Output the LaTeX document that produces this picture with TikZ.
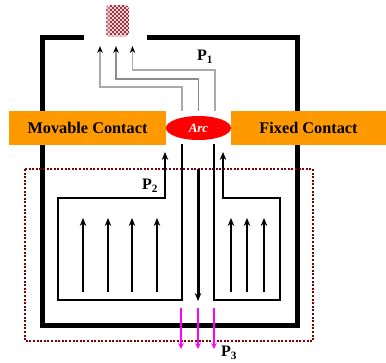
\documentclass[tikz,border=0pt]{standalone}
\usepackage{fontspec}
\setmainfont{Liberation Serif}
\usetikzlibrary{arrows.meta,shapes.geometric}
\definecolor{orangebox}{RGB}{255,153,0}
\definecolor{dotred}{RGB}{128,0,0}
\definecolor{smokered}{RGB}{165,50,65}
\definecolor{grayline}{RGB}{170,170,170}
\definecolor{midgray}{RGB}{140,140,140}
\definecolor{pureviolet}{RGB}{255,0,255}
\tikzset{
  wall/.style={line width=5pt,line cap=butt,line join=miter},
  contact/.style={fill=orangebox,draw=none,inner sep=0pt,minimum height=34pt,font=\bfseries\fontsize{16.3}{18}\selectfont},
  flowline/.style={line width=2pt,line join=miter},
  tip/.style={-{Stealth[length=8pt,width=6.5pt]}},
  uparrow/.style={line width=2pt,-{Stealth[length=8pt,width=6.5pt]}},
  hotpath/.style={line width=1.4pt,draw=grayline,-{Stealth[length=7pt,width=5.5pt,color=black]}},
  magarrow/.style={line width=2pt,draw=pureviolet,-{Stealth[length=6pt,width=5.5pt,color=pureviolet]}},
  plabel/.style={inner sep=0pt,font=\bfseries\fontsize{16}{18}\selectfont},
}
\begin{document}
\begin{tikzpicture}[x=1pt,y=-1pt]
\useasboundingbox (0,0) rectangle (386,362);
% walls
\coordinate (wlend) at (84,37);
\coordinate (wltop) at (42,37);
\coordinate (wlbot) at (42,325);
\coordinate (wrbot) at (297,325);
\coordinate (wrtop) at (297,37);
\coordinate (wrend) at (147,37);
\draw[wall] (wlend) -- (wltop) -- (wlbot) -- (wrbot) -- (wrtop) -- (wrend);
% dotted boundary
\draw[dotred,line width=2pt,dash pattern=on 2pt off 1.6pt] (25,169) rectangle (313,341);
% smoke
\begin{scope}
\clip[rounded corners=4pt] (105.5,5) rectangle (129,37);
\foreach \i in {0,...,12}{
  \foreach \j in {0,...,16}{
    \pgfmathtruncatemacro{\checker}{mod(\i+\j,2)}
    \pgfmathtruncatemacro{\tint}{\j>14 ? 35 : (\i<2 ? 70 : 100)}
    \ifnum\checker=0
      \fill[smokered!\tint] ({105.5+\i*2},{5+\j*2}) rectangle +(2,2);
    \else
      \fill[smokered!22] ({105.5+\i*2},{5+\j*2}) rectangle +(2,2);
    \fi
  }
}
\end{scope}
% gray paths
\coordinate (g1s) at (182,111);\coordinate (g1a) at (182,87);\coordinate (g1b) at (100,87);\coordinate (g1e) at (100,46);
\coordinate (g2s) at (198.5,111);\coordinate (g2a) at (198.5,79);\coordinate (g2b) at (116,79);\coordinate (g2e) at (116,46);
\coordinate (g3s) at (215,111);\coordinate (g3a) at (215,70);\coordinate (g3b) at (132.5,70);\coordinate (g3e) at (132.5,46);
\draw[hotpath] (g1s) -- (g1a) -- (g1b) -- (g1e);
\draw[hotpath,draw=midgray] (g2s) -- (g2a) -- (g2b) -- (g2e);
\draw[hotpath] (g3s) -- (g3a) -- (g3b) -- (g3e);
% contacts
\node (mov) [contact,minimum width=157pt] at (87.5,128) {Movable Contact};
\node (fix) [contact,minimum width=155pt] at (308.5,128) {Fixed Contact};
\node (arc) [ellipse,fill=red,draw=none,minimum width=65pt,minimum height=24pt,inner sep=0pt,text=white,font=\bfseries\itshape\fontsize{13}{15}\selectfont] at (198.5,128) {Arc};
% inner left channel
\coordinate (la) at (182,144);\coordinate (lb) at (182,300);\coordinate (lc) at (58,300);\coordinate (ld) at (58,198);\coordinate (le) at (165,198);\coordinate (lf) at (165,152);
\draw[flowline,tip] (la) -- (lb) -- (lc) -- (ld) -- (le) -- (lf);
% inner right channel
\coordinate (ra) at (214,144);\coordinate (rb) at (214,300);\coordinate (rc) at (280,300);\coordinate (rd) at (280,198);\coordinate (re) at (223,198);\coordinate (rf) at (223,152);
\draw[flowline,tip] (ra) -- (rb) -- (rc) -- (rd) -- (re) -- (rf);
% centre
\coordinate (cs) at (198,169);\coordinate (ce) at (198,301);
\draw[line width=3pt,tip] (cs) -- (ce);
% up arrows
\foreach \n/\xx in {a/83,b/108,c/132,d/157,e/231,f/247,g/264}{
  \coordinate (u\n s) at (\xx,292);
  \coordinate (u\n e) at (\xx,218);
  \draw[uparrow] (u\n s) -- (u\n e);
}
% magenta
\foreach \n/\xx in {a/181,b/198,c/214}{
  \coordinate (m\n s) at (\xx,308);
  \coordinate (m\n e) at (\xx,349);
  \draw[magarrow] (m\n s) -- (m\n e);
}
% labels
\node (p1) [plabel] at (205,57) {P\textsubscript{1}};
\node (p2) [plabel] at (150,186) {P\textsubscript{2}};
\node (p3) [plabel] at (229,353) {P\textsubscript{3}};
\end{tikzpicture}
\end{document}
